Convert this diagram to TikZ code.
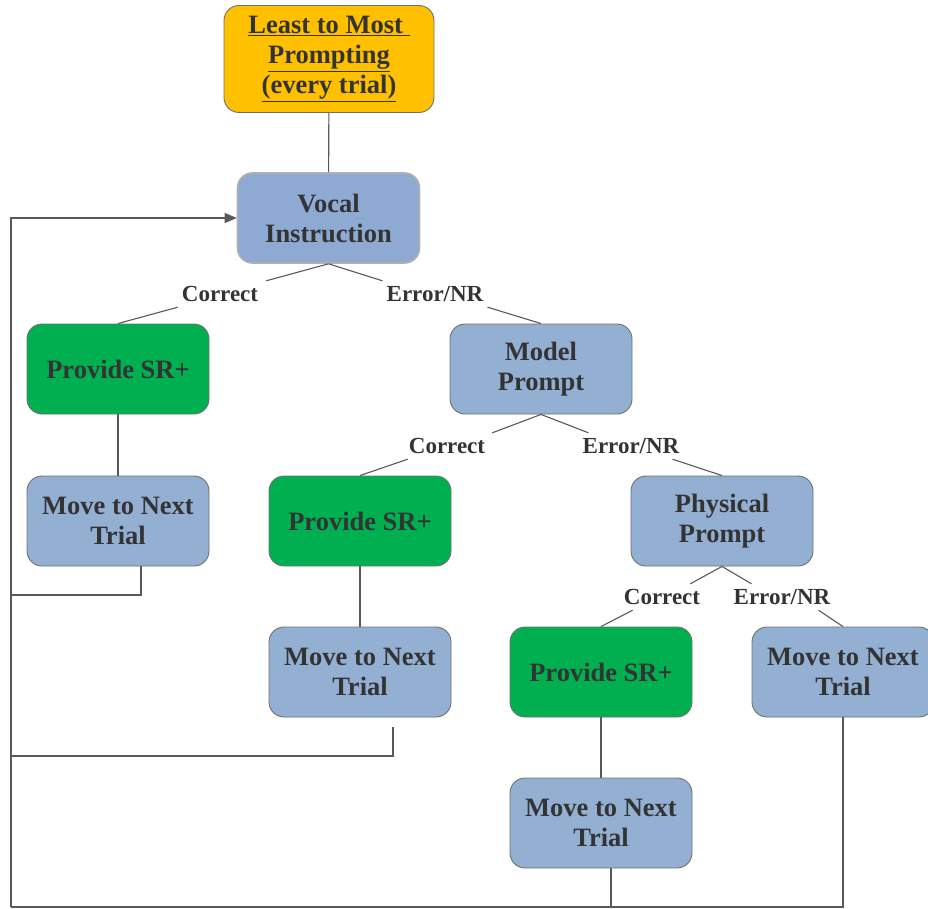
\documentclass[tikz,border=0pt]{standalone}
\usepackage{fontspec}
\setmainfont{Liberation Serif}
\usetikzlibrary{arrows.meta}
\definecolor{boxblue}{HTML}{93B0D3}
\definecolor{vocalblue}{HTML}{8EAAD3}
\definecolor{boxgreen}{HTML}{00B050}
\definecolor{boxyellow}{HTML}{FFC000}
\definecolor{bordergray}{HTML}{707070}
\definecolor{linegray}{HTML}{595959}
\definecolor{txt}{HTML}{333333}
\begin{document}
\begin{tikzpicture}[x=1pt,y=-1pt,
  box/.style={draw=bordergray, line width=0.9pt, rounded corners=15pt,
    minimum width=182pt, minimum height=90pt, align=center,
    font=\fontsize{26.5}{30}\selectfont\bfseries, text=txt, inner sep=0pt},
  bluebox/.style={box, fill=boxblue},
  greenbox/.style={box, fill=boxgreen},
  lbl/.style={font=\fontsize{23}{27}\selectfont\bfseries, text=txt,
    inner xsep=4pt, inner ysep=0pt, minimum height=26pt},
  conn/.style={draw=linegray, line width=1.1pt},
  arr/.style={conn, -{Triangle[length=12pt,width=10pt]}}
]
\useasboundingbox (0,0) rectangle (928,909);

\node[box, fill=boxyellow, minimum width=210pt, minimum height=107pt] (top) at (329,59)
  {\underline{Least to Most\ }\\\underline{Prompting}\\\underline{(every trial)}};
\node[box, fill=vocalblue, draw=bordergray!55, line width=1.6pt] (vocal) at (328.5,218) {Vocal\\Instruction};

\node[greenbox] (p1) at (118,369) {Provide SR+};
\node[bluebox] (m1) at (118,521) {Move to Next\\Trial};
\node[bluebox] (model) at (541,369) {Model\\Prompt};
\node[greenbox] (p2) at (360,521) {Provide SR+};
\node[bluebox] (phys) at (722,521) {Physical\\Prompt};
\node[bluebox] (m2) at (360,672) {Move to Next\\Trial};
\node[greenbox] (p3) at (601,672) {Provide SR+};
\node[bluebox] (m3) at (843,672) {Move to Next\\Trial};
\node[bluebox] (m4) at (601,823) {Move to Next\\Trial};

\node[lbl] (c1) at (220,294) {Correct};
\node[lbl] (e1) at (435,294) {Error/NR};
\node[lbl] (c2) at (447,446) {Correct};
\node[lbl] (e2) at (631,446) {Error/NR};
\node[lbl] (c3) at (662,597) {Correct};
\node[lbl] (e3) at (782,597) {Error/NR};

\draw[conn] (top) -- (vocal);
\draw[conn] (vocal.south) -- ([xshift=4pt]c1.north east);
\draw[conn] (c1.south west) -- (p1.north);
\draw[conn] (vocal.south) -- (e1.north west);
\draw[conn] (e1.south east) -- (model.north);
\draw[conn] (model.south) -- ([xshift=3pt]c2.north east);
\draw[conn] ([xshift=3pt]c2.south west) -- (p2.north);
\draw[conn] (model.south) -- ([xshift=10pt]e2.north west);
\draw[conn] ([xshift=-11pt]e2.south east) -- (phys.north);
\draw[conn] (phys.south) -- ([xshift=-14pt]c3.north east);
\draw[conn] ([xshift=13pt]c3.south west) -- (p3.north);
\draw[conn] (phys.south) -- ([xshift=22pt]e3.north west);
\draw[conn] ([xshift=-16pt]e3.south east) -- (m3.north);

\draw[conn] (p1) -- (m1);
\draw[conn] (p2) -- (m2);
\draw[conn] (p3) -- (m4);

\coordinate (lft1) at (11,595);
\coordinate (lft2) at (11,756);
\coordinate (bl) at (11,907);

\draw[conn] ([xshift=23pt]m1.south) |- (lft1);
\draw[conn] ([xshift=33pt,yshift=-10pt]m2.south) |- (lft2);
\draw[conn] ([xshift=10pt]m4.south) |- (bl);
\draw[conn] (m3.south) |- (bl);
\draw[arr] (bl) |- (vocal.west);
\end{tikzpicture}
\end{document}
